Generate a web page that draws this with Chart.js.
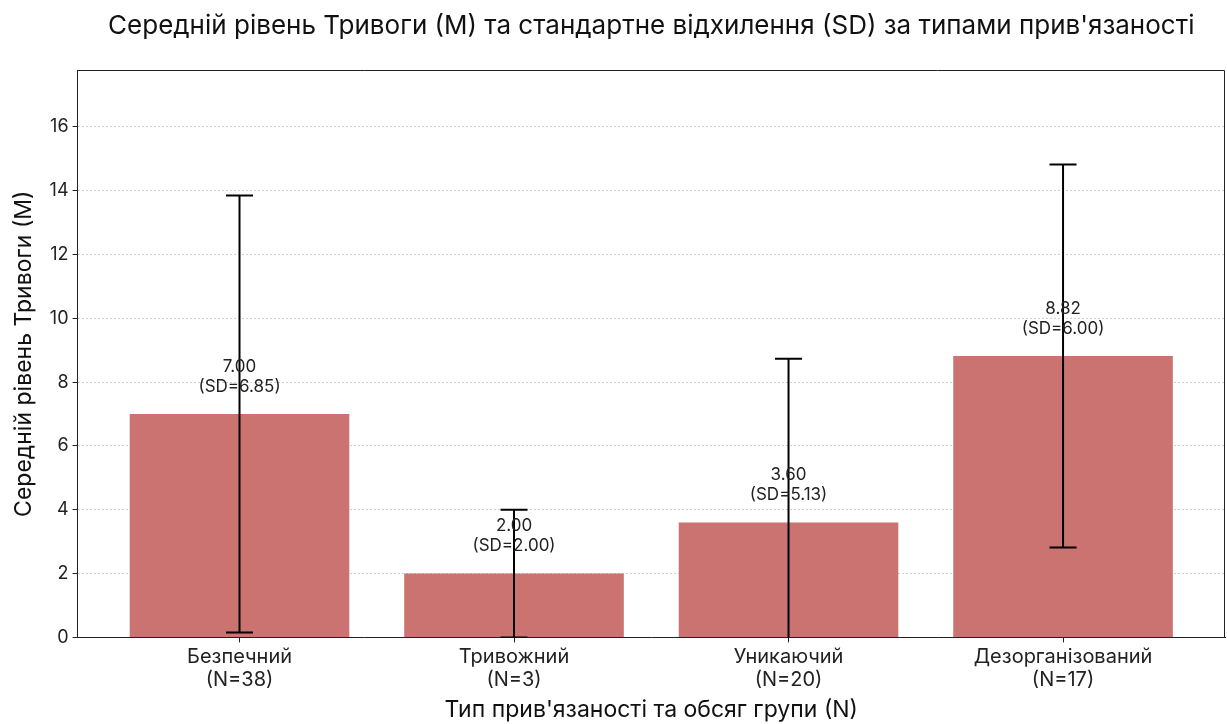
<!DOCTYPE html>
<html>
<head>
<meta charset="utf-8">
<script src="https://cdn.jsdelivr.net/npm/chart.js@4.4.1/dist/chart.umd.min.js"></script>
<style>
  html, body { margin: 0; padding: 0; background: #fff; }
  #wrap { width: 1227px; height: 724px; }
</style>
</head>
<body>
<div id="wrap"><canvas id="barchart"></canvas></div>
<script>
// chart data
const categories = ['Безпечний', 'Тривожний', 'Уникаючий', 'Дезорганізований'];
const groupN = [38, 3, 20, 17];
const means = [7.00, 2.00, 3.60, 8.82];
const sds = [6.85, 2.00, 5.13, 6.00];
const yTicks = [0, 2, 4, 6, 8, 10, 12, 14, 16];

const FONT = 'Inter';
const TITLE = 'Середній рівень Тривоги (M) та стандартне відхилення (SD) за типами прив\'язаності';
const yMax = Math.max(...means.map((m, i) => m + sds[i])) * 1.2;

// error bars, value labels, frame and title (centred over the axes)
const errorBars = {
  id: 'errorBars',
  afterDatasetsDraw(chart) {
    const { ctx, scales: { x, y } } = chart;
    const a = chart.chartArea;
    ctx.save();
    ctx.beginPath();
    ctx.rect(a.left, a.top, a.right - a.left, a.bottom - a.top);
    ctx.clip();
    means.forEach((m, i) => {
      const px = x.getPixelForValue(i);
      const top = y.getPixelForValue(m + sds[i]);
      const bot = y.getPixelForValue(m - sds[i]);
      ctx.strokeStyle = '#000';
      ctx.lineWidth = 2;
      ctx.beginPath();
      ctx.moveTo(px, top); ctx.lineTo(px, bot);
      ctx.moveTo(px - 13.5, top); ctx.lineTo(px + 13.5, top);
      ctx.moveTo(px - 13.5, bot); ctx.lineTo(px + 13.5, bot);
      ctx.stroke();
    });
    ctx.restore();
    ctx.save();
    ctx.fillStyle = '#222';
    ctx.font = '17px "' + FONT + '"';
    ctx.textAlign = 'center';
    ctx.textBaseline = 'bottom';
    means.forEach((m, i) => {
      const px = x.getPixelForValue(i);
      const py = y.getPixelForValue(m + 0.5) - 3;
      ctx.fillText('(SD=' + sds[i].toFixed(2) + ')', px, py);
      ctx.fillText(m.toFixed(2), px, py - 20);
    });
    // top and right frame
    ctx.strokeStyle = '#222';
    ctx.lineWidth = 1;
    ctx.beginPath();
    ctx.moveTo(a.left, a.top + 0.5); ctx.lineTo(a.right - 0.5, a.top + 0.5); ctx.lineTo(a.right - 0.5, a.bottom);
    ctx.stroke();
    // title
    ctx.fillStyle = '#111';
    ctx.font = '26px "' + FONT + '"';
    ctx.textBaseline = 'middle';
    ctx.fillText(TITLE, (a.left + a.right) / 2, 26);
    ctx.restore();
  }
};

const canvas = document.getElementById('barchart');

new Chart(canvas, {
  type: 'bar',
  data: {
    datasets: [{
      data: means.map((m, i) => ({ x: i, y: m })),
      backgroundColor: '#CA7370',
      barPercentage: 0.8,
      categoryPercentage: 1.0
    }]
  },
  options: {
    responsive: true,
    maintainAspectRatio: false,
    animation: false,
    layout: { padding: { left: 10, right: 2, top: 70, bottom: 0 } },
    plugins: {
      legend: { display: false },
      tooltip: { enabled: false },
      title: { display: false }
    },
    scales: {
      x: {
        type: 'linear',
        offset: false,
        min: -0.59,
        max: 3.59,
        afterBuildTicks: s => { s.ticks = categories.map((_, i) => ({ value: i })); },
        ticks: {
          color: '#222',
          font: { family: FONT, size: 20, lineHeight: 1.15 },
          padding: 3,
          callback: v => [categories[v], '(N=' + groupN[v] + ')']
        },
        grid: { display: true, offset: false, drawOnChartArea: false, tickLength: 5, tickColor: '#222' },
        border: { display: true, color: '#222', width: 1 },
        title: {
          display: true,
          text: 'Тип прив\'язаності та обсяг групи (N)',
          color: '#111',
          font: { family: FONT, size: 23 },
          padding: { top: 2, bottom: 0 }
        }
      },
      y: {
        min: 0,
        max: yMax,
        afterBuildTicks: s => { s.ticks = yTicks.map(v => ({ value: v })); },
        ticks: {
          color: '#222',
          font: { family: FONT, size: 18 },
          padding: 4
        },
        grid: { color: '#cfcfcf', lineWidth: 1, tickLength: 5, tickColor: '#222' },
        border: { display: true, color: '#222', width: 1, dash: [2, 2] },
        title: {
          display: true,
          text: 'Середній рівень Тривоги (M)',
          color: '#111',
          font: { family: FONT, size: 23 },
          padding: { top: 0, bottom: 8 }
        }
      }
    }
  },
  plugins: [errorBars]
});
</script>
</body>
</html>
